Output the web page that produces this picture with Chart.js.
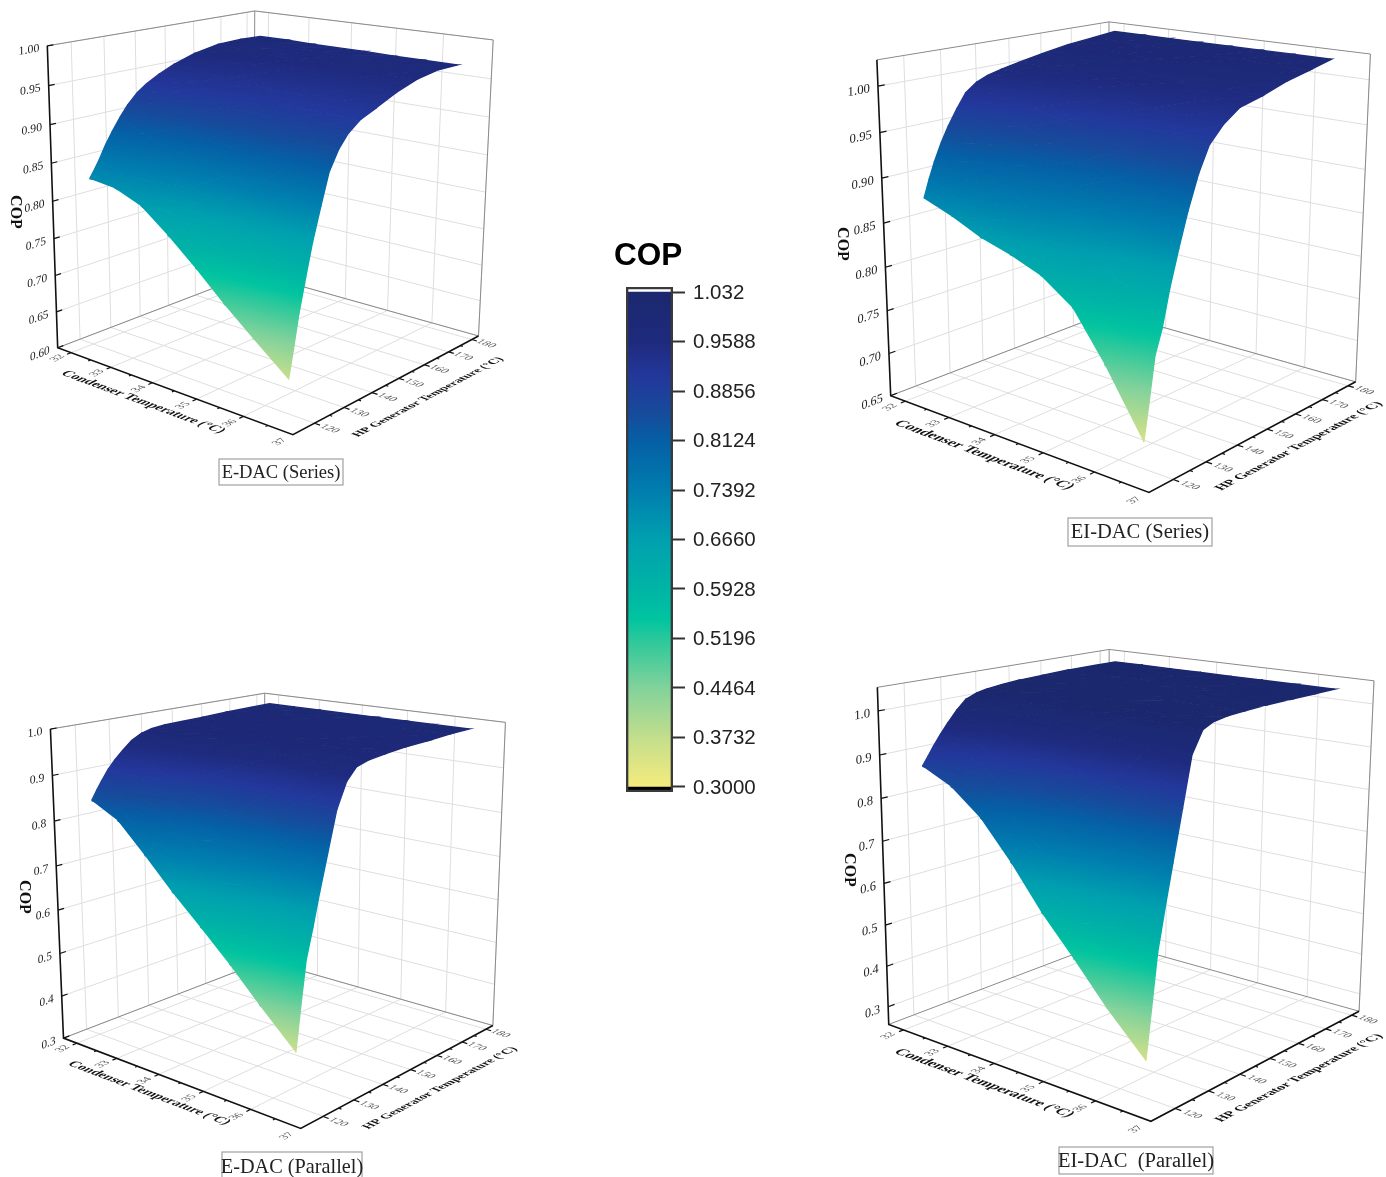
<!DOCTYPE html>
<html>
<head>
<meta charset="utf-8">
<title>COP surfaces</title>
<script src="https://cdn.jsdelivr.net/npm/chart.js@4/dist/chart.umd.min.js"></script>
<style>
body { margin: 0; background: #fff; overflow: hidden; }
canvas { position: absolute; }
</style>
</head>
<body>
<canvas id="edacSeries"></canvas>
<canvas id="eidacSeries"></canvas>
<canvas id="edacParallel"></canvas>
<canvas id="eidacParallel"></canvas>
<canvas id="colorbar"></canvas>
<script>
// surface grid, rows follow condenserGrid, columns follow generatorGrid
const condenserGrid = [32.6, 33.2, 33.8, 34.4, 35, 35.6, 36.2, 36.9];
const generatorGrid = [113, 114.5, 116, 118, 120, 122.5, 125, 128, 131, 135, 140, 147, 155, 163, 170.5];

const copEdacSeries = [
    [.842, .852, .863, .880, .894, .910, .924, .937, .946, .955, .964, .973, .979, .980, .979],
    [.838, .843, .850, .864, .878, .897, .915, .931, .942, .951, .960, .970, .977, .979, .979],
    [.824, .828, .835, .847, .863, .884, .907, .925, .937, .948, .956, .967, .975, .978, .978],
    [.796, .805, .815, .829, .847, .873, .901, .921, .934, .946, .954, .965, .974, .978, .978],
    [.765, .781, .796, .815, .837, .867, .897, .919, .933, .944, .952, .964, .973, .978, .978],
    [.731, .756, .778, .801, .829, .862, .895, .917, .931, .943, .951, .963, .973, .977, .977],
    [.700, .731, .758, .789, .822, .858, .893, .916, .931, .943, .951, .962, .972, .977, .977],
    [.665, .700, .738, .778, .816, .855, .892, .915, .930, .942, .950, .962, .972, .977, .977]
];
const copEidacSeries = [
    [.889, .908, .925, .944, .960, .977, .992, 1.001, 1.006, 1.010, 1.014, 1.019, 1.024, 1.027, 1.030],
    [.877, .895, .913, .931, .948, .965, .981, .993, 1.003, 1.010, 1.014, 1.019, 1.024, 1.027, 1.030],
    [.862, .880, .896, .914, .930, .949, .967, .984, .997, 1.007, 1.013, 1.018, 1.023, 1.027, 1.030],
    [.852, .868, .882, .896, .914, .935, .956, .976, .992, 1.004, 1.011, 1.016, 1.022, 1.026, 1.030],
    [.839, .855, .870, .881, .896, .920, .944, .967, .986, .999, 1.009, 1.014, 1.021, 1.025, 1.030],
    [.815, .835, .855, .865, .880, .906, .932, .960, .981, .995, 1.007, 1.012, 1.020, 1.025, 1.030],
    [.766, .798, .826, .840, .860, .892, .922, .953, .977, .992, 1.004, 1.010, 1.019, 1.024, 1.030],
    [.700, .740, .783, .808, .844, .881, .915, .949, .974, .990, 1.003, 1.009, 1.018, 1.024, 1.030]
];
const copEdacParallel = [
    [.863, .882, .900, .922, .939, .957, .973, .985, .991, .994, .995, .996, .998, .999, 1.0],
    [.832, .848, .866, .889, .910, .934, .962, .979, .989, .993, .994, .996, .998, .999, 1.0],
    [.772, .800, .825, .853, .881, .912, .952, .975, .987, .991, .993, .995, .997, .999, 1.0],
    [.708, .748, .774, .805, .841, .882, .932, .965, .982, .988, .991, .995, .997, .999, 1.0],
    [.650, .698, .735, .774, .817, .865, .922, .960, .981, .987, .991, .994, .997, .999, 1.0],
    [.590, .646, .697, .743, .796, .852, .915, .958, .980, .987, .990, .994, .996, .999, 1.0],
    [.525, .595, .660, .715, .772, .840, .908, .955, .978, .986, .990, .994, .996, .999, 1.0],
    [.453, .545, .630, .690, .755, .830, .905, .955, .978, .986, .990, .994, .996, .999, 1.0]
];
const copEidacParallel = [
    [.894, .913, .933, .957, .979, 1.004, 1.024, 1.034, 1.039, 1.043, 1.046, 1.048, 1.05, 1.05, 1.05],
    [.862, .882, .893, .920, .944, .977, 1.014, 1.033, 1.039, 1.044, 1.046, 1.048, 1.05, 1.05, 1.05],
    [.807, .833, .846, .877, .910, .952, 1.005, 1.032, 1.040, 1.044, 1.047, 1.049, 1.05, 1.05, 1.05],
    [.725, .762, .793, .834, .875, .932, .999, 1.031, 1.040, 1.045, 1.047, 1.049, 1.05, 1.05, 1.05],
    [.632, .690, .737, .791, .844, .913, .993, 1.031, 1.040, 1.045, 1.047, 1.049, 1.05, 1.05, 1.05],
    [.552, .625, .690, .757, .820, .901, .990, 1.030, 1.041, 1.046, 1.048, 1.05, 1.05, 1.05, 1.05],
    [.468, .558, .643, .722, .795, .890, .987, 1.030, 1.041, 1.046, 1.048, 1.05, 1.05, 1.05, 1.05],
    [.382, .490, .600, .690, .775, .880, .985, 1.030, 1.041, 1.046, 1.048, 1.05, 1.05, 1.05, 1.05]
];

// tick labels
const condenserTicks = [32, 33, 34, 35, 36, 37];
const generatorTicks = [120, 130, 140, 150, 160, 170, 180];
const copTicksEdacSeries = [.60, .65, .70, .75, .80, .85, .90, .95, 1.00];
const copTicksEidacSeries = [.65, .70, .75, .80, .85, .90, .95, 1.00];
const copTicksParallel = [.3, .4, .5, .6, .7, .8, .9, 1.0];
const colorbarTicks = [.3, .3732, .4464, .5196, .5928, .666, .7392, .8124, .8856, .9588, 1.032];
const colorbarLabels = ['0.3000', '0.3732', '0.4464', '0.5196', '0.5928', '0.6660', '0.7392', '0.8124', '0.8856', '0.9588', '1.032'];

// colormap of the bar, bottom to top
const colormap = [
    [0, 245, 235, 125], [.1, 195, 222, 140], [.2, 130, 210, 155], [.3, 40, 200, 155], [.34, 0, 196, 160],
    [.4, 0, 180, 165], [.5, 0, 160, 175], [.6, 0, 125, 175], [.7, 5, 95, 165], [.755, 22, 75, 155],
    [.83, 35, 55, 155], [.9, 30, 42, 125], [1, 27, 40, 110]
];

// T axis and G axis ends of the box
const condenserRange = [31.65, 37];
const generatorRange = [113, 183];

const panels = [
    {
        id: 'edacSeries', box: [0, 0, 560, 500], cop: copEdacSeries, copTicks: copTicksEdacSeries, digits: 2,
        copRange: [.6, 1.0], colorRange: [.63, 1.01],
        corners: { L: [59.3, 348.3], N: [291.7, 435], R: [480, 335], B: [251.7, 273], Lt: [46.7, 45], Rt: [492.7, 40.7], Bt: [255.7, 11] },
        copLabel: [15, 212], condLabel: [143, 402], genLabel: [428, 397], condSize: 13.7, genSize: 11.9, tickSize: 12,
        title: 'E-DAC (Series)', titleBox: [219, 459, 124, 26], titleSize: 18.5
    },
    {
        id: 'eidacSeries', box: [800, 0, 586, 560], cop: copEidacSeries, copTicks: copTicksEidacSeries, digits: 2,
        copRange: [.65, 1.028], colorRange: [.675, 1.047],
        corners: { L: [890.4, 395.2], N: [1149.2, 492.7], R: [1355.4, 381.6], B: [1109.5, 312.4], Lt: [877, 60.1], Rt: [1370.5, 54], Bt: [1108.8, 21.7] },
        copLabel: [842, 244], condLabel: [984, 455], genLabel: [1299, 446], condSize: 15, genSize: 13.2, tickSize: 13,
        title: 'EI-DAC (Series)', titleBox: [1068, 518, 144, 28], titleSize: 20.5
    },
    {
        id: 'edacParallel', box: [0, 670, 560, 507], cop: copEdacParallel, copTicks: copTicksParallel, digits: 1,
        copRange: [.3, 1.0], colorRange: [.40, 1.03],
        corners: { L: [63.2, 1038.3], N: [300.7, 1128.3], R: [492.6, 1025.7], B: [265.9, 960.3], Lt: [50.7, 729], Rt: [505.7, 722.3], Bt: [264.2, 693.3] },
        copLabel: [24, 897], condLabel: [149, 1093], genLabel: [440, 1088], condSize: 13.6, genSize: 12.2, tickSize: 12,
        title: 'E-DAC (Parallel)', titleBox: [222, 1152, 140, 30], titleSize: 20.3
    },
    {
        id: 'eidacParallel', box: [800, 640, 586, 537], cop: copEidacParallel, copTicks: copTicksParallel, digits: 1,
        copRange: [.256, 1.053], colorRange: [.33, 1.04],
        corners: { L: [889.6, 1024.2], N: [1150.4, 1121.8], R: [1359.9, 1010.4], B: [1107.2, 941.7], Lt: [876.9, 687.1], Rt: [1373.6, 681.2], Bt: [1109.9, 649.3] },
        copLabel: [849, 870], condLabel: [984, 1083], genLabel: [1299, 1078], condSize: 15, genSize: 13.2, tickSize: 13,
        title: 'EI-DAC  (Parallel)', titleBox: [1059, 1147, 154, 27], titleSize: 20.5
    }
];

const SERIF = '"Liberation Serif"';
const SANS = '"Liberation Sans"';

function colorAt(f) {
    f = Math.min(1, Math.max(0, f));
    for (let i = 1; i < colormap.length; i++) {
        const a = colormap[i - 1], b = colormap[i];
        if (f <= b[0]) {
            const t = (f - a[0]) / (b[0] - a[0]);
            return `rgb(${Math.round(a[1] + (b[1] - a[1]) * t)},${Math.round(a[2] + (b[2] - a[2]) * t)},${Math.round(a[3] + (b[3] - a[3]) * t)})`;
        }
    }
    return 'rgb(27,40,110)';
}

// perspective camera fitted to the seven visible corners of the box
function fitCamera(c) {
    const pairs = [
        [0, 0, 0, c.L], [1, 0, 0, c.N], [1, 1, 0, c.R], [0, 1, 0, c.B],
        [0, 0, 1, c.Lt], [1, 1, 1, c.Rt], [0, 1, 1, c.Bt]
    ];
    const rows = [], rhs = [];
    pairs.forEach(([u, v, w, p]) => {
        const x = p[0] / 1000, y = p[1] / 1000;
        rows.push([u, v, w, 1, 0, 0, 0, 0, -x * u, -x * v, -x * w]); rhs.push(x);
        rows.push([0, 0, 0, 0, u, v, w, 1, -y * u, -y * v, -y * w]); rhs.push(y);
    });
    const n = 11;
    const m = [];
    for (let i = 0; i < n; i++) {
        m.push(new Array(n + 1).fill(0));
        for (let j = 0; j < n; j++) rows.forEach(r => { m[i][j] += r[i] * r[j]; });
        rows.forEach((r, k) => { m[i][n] += r[i] * rhs[k]; });
    }
    for (let i = 0; i < n; i++) {
        let best = i;
        for (let k = i + 1; k < n; k++) if (Math.abs(m[k][i]) > Math.abs(m[best][i])) best = k;
        [m[i], m[best]] = [m[best], m[i]];
        for (let k = 0; k < n; k++) {
            if (k === i) continue;
            const q = m[k][i] / m[i][i];
            for (let j = i; j <= n; j++) m[k][j] -= q * m[i][j];
        }
    }
    const p = m.map((r, i) => r[n] / r[i]);
    return (u, v, w) => {
        const d = p[8] * u + p[9] * v + p[10] * w + 1;
        return {
            x: 1000 * (p[0] * u + p[1] * v + p[2] * w + p[3]) / d,
            y: 1000 * (p[4] * u + p[5] * v + p[6] * w + p[7]) / d
        };
    };
}

function lineSet(points, color, width) {
    return { data: points, showLine: true, fill: false, borderColor: color, borderWidth: width, pointRadius: 0 };
}

const unitT = t => (t - condenserRange[0]) / (condenserRange[1] - condenserRange[0]);
const unitG = g => (g - generatorRange[0]) / (generatorRange[1] - generatorRange[0]);

function buildPanel(panel) {
    const canvas = document.getElementById(panel.id);
    const [left, top, width, height] = panel.box;
    canvas.width = width;
    canvas.height = height;
    canvas.style.left = left + 'px';
    canvas.style.top = top + 'px';
    const ctx = canvas.getContext('2d');
    const cam = fitCamera(panel.corners);
    const unitZ = z => (z - panel.copRange[0]) / (panel.copRange[1] - panel.copRange[0]);
    const toColor = z => colorAt((z - panel.colorRange[0]) / (panel.colorRange[1] - panel.colorRange[0]));

    const sets = [];
    const GRID = '#dedede', FRAME = '#8a8a8a';

    // walls and floor
    panel.copTicks.forEach(z => {
        const w = unitZ(z);
        sets.push(lineSet([cam(0, 0, w), cam(0, 1, w), cam(1, 1, w)], GRID, 1));
    });
    generatorTicks.forEach(g => {
        const v = unitG(g);
        sets.push(lineSet([cam(0, v, 1), cam(0, v, 0), cam(1, v, 0)], GRID, 1));
    });
    condenserTicks.forEach(t => {
        const u = unitT(t);
        sets.push(lineSet([cam(u, 1, 1), cam(u, 1, 0), cam(u, 0, 0)], GRID, 1));
    });
    sets.push(lineSet([cam(0, 0, 1), cam(0, 1, 1), cam(1, 1, 1), cam(1, 1, 0), cam(0, 1, 0), cam(0, 0, 0)], FRAME, 1));
    sets.push(lineSet([cam(0, 1, 0), cam(0, 1, 1)], FRAME, 1));

    // surface, far corner first, every triangle shaded along its own height gradient
    for (let i = 0; i < condenserGrid.length - 1; i++) {
        for (let j = generatorGrid.length - 2; j >= 0; j--) {
            const node = (a, b) => {
                const p = cam(unitT(condenserGrid[a]), unitG(generatorGrid[b]), unitZ(panel.cop[a][b]));
                return { x: p.x, y: p.y, z: panel.cop[a][b] };
            };
            const n00 = node(i, j), n10 = node(i + 1, j), n01 = node(i, j + 1), n11 = node(i + 1, j + 1);
            [[n00, n01, n11], [n00, n11, n10]].forEach(tri => {
                const [a, b, c] = tri;
                const det = (b.x - a.x) * (c.y - a.y) - (c.x - a.x) * (b.y - a.y);
                const zs = tri.map(q => q.z);
                const zLo = Math.min(...zs), zHi = Math.max(...zs);
                let paint = toColor((zLo + zHi) / 2);
                if (Math.abs(det) > 1e-6 && zHi - zLo > 1e-6) {
                    const gx = ((b.z - a.z) * (c.y - a.y) - (c.z - a.z) * (b.y - a.y)) / det;
                    const gy = ((c.z - a.z) * (b.x - a.x) - (b.z - a.z) * (c.x - a.x)) / det;
                    const g2 = gx * gx + gy * gy;
                    const base = tri[zs.indexOf(zLo)];
                    const k = (zHi - zLo) / g2;
                    const grad = ctx.createLinearGradient(base.x - left, base.y - top, base.x - left + gx * k, base.y - top + gy * k);
                    for (let s = 0; s <= 6; s++) grad.addColorStop(s / 6, toColor(zLo + (zHi - zLo) * s / 6));
                    paint = grad;
                }
                // stroke a bit wider than the seam so white does not bleed through
                sets.push({
                    data: tri.map(q => ({ x: q.x, y: q.y })), showLine: true, fill: 'shape',
                    backgroundColor: paint, borderColor: paint, borderWidth: 1.4, pointRadius: 0
                });
            });
        }
    }

    // black axes with their ticks
    const AXIS = '#111';
    sets.push(lineSet([cam(0, 0, 1), cam(0, 0, 0), cam(1, 0, 0), cam(1, 1, 0)], AXIS, 1.6));
    panel.copTicks.forEach(z => {
        sets.push(lineSet([cam(0, 0, unitZ(z)), cam(0, .025, unitZ(z))], AXIS, 1.2));
    });
    for (let t = condenserTicks[0]; t < 37; t += .5) {
        const major = Number.isInteger(t);
        sets.push(lineSet([cam(unitT(t), 0, 0), cam(unitT(t), major ? -.018 : -.01, 0)], AXIS, 1.2));
    }
    for (let g = generatorTicks[0]; g <= generatorTicks[generatorTicks.length - 1]; g += 5) {
        const major = g % 10 === 0;
        sets.push(lineSet([cam(1, unitG(g), 0), cam(major ? 1.02 : 1.01, unitG(g), 0)], AXIS, 1.2));
    }

    new Chart(ctx, {
        type: 'scatter',
        data: { datasets: sets.reverse() },
        options: {
            responsive: false,
            animation: false,
            events: [],
            layout: { padding: 0 },
            elements: { line: { tension: 0 } },
            plugins: { legend: { display: false }, tooltip: { enabled: false } },
            scales: {
                x: { type: 'linear', display: false, min: left, max: left + width },
                y: { type: 'linear', display: false, min: top, max: top + height, reverse: true }
            }
        },
        plugins: [{
            id: 'panelText',
            afterDraw(chart) {
                const c = chart.ctx, sx = chart.scales.x, sy = chart.scales.y;
                const unit = (a, b) => {
                    const dx = b.x - a.x, dy = b.y - a.y, l = Math.hypot(dx, dy);
                    return [dx / l, dy / l];
                };
                const put = (text, pos, base, up, k, font, color, align) => {
                    c.save();
                    c.translate(sx.getPixelForValue(pos.x), sy.getPixelForValue(pos.y));
                    c.transform(base[0], base[1], -up[0] * k, -up[1] * k, 0, 0);
                    c.font = font;
                    c.fillStyle = color;
                    c.textAlign = align || 'center';
                    c.textBaseline = 'middle';
                    c.fillText(text, 0, 0);
                    c.restore();
                };
                // COP ticks, baseline follows the left wall, letters stay upright
                panel.copTicks.forEach(z => {
                    const w = unitZ(z);
                    const p = cam(0, 0, w);
                    put(z.toFixed(panel.digits), { x: p.x - 8, y: p.y + 2.5 }, unit(p, cam(0, .2, w)), [0, -1], 1, `${panel.tickSize}px ${SERIF}`, '#222', 'right');
                });
                const alongT = unit(cam(.4, 0, 0), cam(.8, 0, 0));
                const alongG = unit(cam(1, .4, 0), cam(1, .8, 0));
                const awayT = [-alongT[0], -alongT[1]];
                condenserTicks.forEach(t => {
                    put(String(t), cam(unitT(t), -.06, 0), alongG, awayT, .95, `11.5px ${SERIF}`, '#555');
                });
                generatorTicks.forEach(g => {
                    put(String(g), cam(1.055, unitG(g), 0), alongT, alongG, .95, `11.5px ${SERIF}`, '#555');
                });
                put('Condenser Temperature (°C)', { x: panel.condLabel[0], y: panel.condLabel[1] }, alongT, alongG, 1, `bold ${panel.condSize}px ${SERIF}`, '#111');
                put('HP Generator Temperature (°C)', { x: panel.genLabel[0], y: panel.genLabel[1] }, alongG, awayT, 1, `bold ${panel.genSize}px ${SERIF}`, '#111');
                put('COP', { x: panel.copLabel[0], y: panel.copLabel[1] }, [0, 1], [1, 0], 1, `bold 16px ${SERIF}`, '#111');

                // boxed caption
                const [bx, by, bw, bh] = panel.titleBox;
                const px = sx.getPixelForValue(bx), py = sy.getPixelForValue(by);
                c.save();
                c.strokeStyle = '#a0a0a0';
                c.lineWidth = 1.2;
                c.strokeRect(px, py, bw, bh);
                c.font = `${panel.titleSize}px ${SERIF}`;
                c.fillStyle = '#222';
                c.textAlign = 'center';
                c.textBaseline = 'middle';
                c.fillText(panel.title, px + bw / 2, py + bh / 2 + 1);
                c.restore();
            }
        }]
    });
}

panels.forEach(buildPanel);

// colorbar, the two end bands sit just outside the value range
const barCanvas = document.getElementById('colorbar');
barCanvas.width = 190;
barCanvas.height = 590;
barCanvas.style.left = '600px';
barCanvas.style.top = '225px';
const belowBand = .2926, aboveBand = 1.0394;

new Chart(barCanvas.getContext('2d'), {
    type: 'bar',
    data: {
        labels: ['COP'],
        datasets: [
            { data: [[belowBand, aboveBand]], backgroundColor: 'transparent', borderColor: '#3a3a3a', borderWidth: 2, borderSkipped: false },
            { data: [[belowBand, colorbarTicks[0]]], backgroundColor: '#000' },
            {
                data: [[colorbarTicks[0], colorbarTicks[10]]],
                backgroundColor(c) {
                    const y = c.chart.scales.y;
                    if (!c.chart.chartArea) return '#1b2a70';
                    const g = c.chart.ctx.createLinearGradient(0, y.getPixelForValue(colorbarTicks[0]), 0, y.getPixelForValue(colorbarTicks[10]));
                    colormap.forEach(s => g.addColorStop(s[0], `rgb(${s[1]},${s[2]},${s[3]})`));
                    return g;
                }
            },
            { data: [[colorbarTicks[10], aboveBand]], backgroundColor: '#fff' }
        ]
    },
    options: {
        responsive: false,
        animation: false,
        events: [],
        layout: { padding: { left: 26, top: 62, bottom: 23, right: 0 } },
        datasets: { bar: { grouped: false, barPercentage: 1, categoryPercentage: 1 } },
        plugins: { legend: { display: false }, tooltip: { enabled: false } },
        scales: {
            x: { display: false },
            y: {
                position: 'right',
                min: belowBand,
                max: aboveBand,
                afterBuildTicks(axis) { axis.ticks = colorbarTicks.map(v => ({ value: v })); },
                afterFit(axis) { axis.width = 117; },
                border: { display: false },
                grid: { drawOnChartArea: false, drawTicks: true, tickLength: 12, tickWidth: 2, tickColor: '#333' },
                ticks: {
                    autoSkip: false,
                    padding: 8,
                    labelOffset: 1,
                    color: '#222',
                    font: { family: SANS, size: 20.5 },
                    callback: v => colorbarLabels[colorbarTicks.indexOf(v)]
                }
            }
        }
    },
    plugins: [{
        id: 'barTitle',
        afterDraw(chart) {
            const c = chart.ctx;
            c.save();
            c.font = `bold 31.5px ${SANS}`;
            c.fillStyle = '#000';
            c.textBaseline = 'alphabetic';
            c.fillText('COP', 14, 39.5);
            c.restore();
        }
    }]
});
</script>
</body>
</html>
